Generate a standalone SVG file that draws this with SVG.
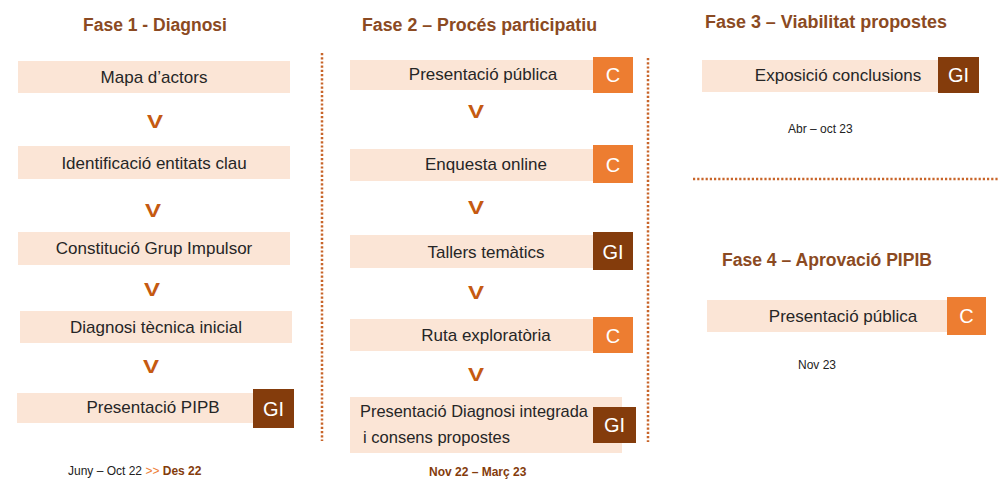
<svg xmlns="http://www.w3.org/2000/svg" width="998" height="480" viewBox="0 0 998 480">
<style>
.bg{fill:#ffffff}
.box{fill:#FBE5D6}
.gi{fill:#843C0C}
.c{fill:#ED7D31}
.t{font-family:"Liberation Sans",Arial,sans-serif;font-size:17px;fill:#262626;text-anchor:middle}
.tl{font-family:"Liberation Sans",Arial,sans-serif;font-size:17px;fill:#262626}
.tag{font-family:"Liberation Sans",Arial,sans-serif;font-size:20px;fill:#ffffff;text-anchor:middle}
.title{font-family:"Liberation Sans",Arial,sans-serif;font-size:17.5px;font-weight:bold;fill:#8B4A22}
.v{font-family:"Liberation Sans",Arial,sans-serif;font-size:18px;font-weight:bold;fill:#C55A11;text-anchor:middle}
.date{font-family:"Liberation Sans",Arial,sans-serif;font-size:12px;fill:#222222}
.dateb{font-weight:bold;fill:#843C0C}
.sep{stroke:#C8652A;stroke-width:2.5;stroke-dasharray:2.2 2;fill:none}
</style>
<rect class="bg" x="0" y="0" width="998" height="480"/>

<g id="titles">
<text class="title" x="83" y="31">Fase 1 - Diagnosi</text>
<text class="title" x="362" y="31" textLength="235" lengthAdjust="spacingAndGlyphs">Fase 2 – Procés participatiu</text>
<text class="title" x="705" y="28" textLength="242" lengthAdjust="spacingAndGlyphs">Fase 3 – Viabilitat propostes</text>
<text class="title" x="722" y="266" textLength="210" lengthAdjust="spacingAndGlyphs">Fase 4 – Aprovació PIPIB</text>
</g>

<g id="separators">
<line class="sep" x1="322" y1="53" x2="322" y2="441"/>
<line class="sep" x1="648" y1="58" x2="648" y2="442"/>
<line class="sep" x1="693" y1="179" x2="998" y2="179"/>
</g>

<!-- Fase 1 -->
<g id="f1-mapa">
<rect class="box" x="18" y="61" width="272" height="32"/>
<text class="t" x="154" y="83">Mapa d’actors</text>
</g>
<g id="f1-identificacio">
<rect class="box" x="18" y="146" width="272" height="33"/>
<text class="t" x="154" y="169">Identificació entitats clau</text>
</g>
<g id="f1-constitucio">
<rect class="box" x="18" y="232" width="272" height="33"/>
<text class="t" x="154" y="254">Constitució Grup Impulsor</text>
</g>
<g id="f1-diagnosi">
<rect class="box" x="20" y="311" width="272" height="32"/>
<text class="t" x="156" y="333">Diagnosi tècnica inicial</text>
</g>
<g id="f1-presentacio">
<rect class="box" x="17" y="393" width="243" height="30"/>
<text class="t" x="153" y="413">Presentació PIPB</text>
<rect class="gi" x="253" y="389" width="41" height="39"/>
<text class="tag" x="273.5" y="416">GI</text>
</g>

<!-- Fase 2 -->
<g id="f2-presentacio">
<rect class="box" x="350" y="60" width="243" height="30"/>
<text class="t" x="483" y="80">Presentació pública</text>
<rect class="c" x="593" y="57" width="40" height="36"/>
<text class="tag" x="613" y="82">C</text>
</g>
<g id="f2-enquesta">
<rect class="box" x="350" y="149" width="243" height="32"/>
<text class="t" x="486" y="170">Enquesta online</text>
<rect class="c" x="593" y="145" width="40" height="38"/>
<text class="tag" x="613" y="172">C</text>
</g>
<g id="f2-tallers">
<rect class="box" x="350" y="235" width="243" height="33"/>
<text class="t" x="486" y="258">Tallers temàtics</text>
<rect class="gi" x="593" y="232" width="40" height="38"/>
<text class="tag" x="613" y="259">GI</text>
</g>
<g id="f2-ruta">
<rect class="box" x="350" y="319" width="243" height="32"/>
<text class="t" x="486" y="341">Ruta exploratòria</text>
<rect class="c" x="593" y="317" width="40" height="36"/>
<text class="tag" x="613" y="343">C</text>
</g>
<g id="f2-diagnosi-integrada">
<rect class="box" x="350" y="397" width="272" height="56"/>
<text class="tl" x="360" y="417" textLength="228" lengthAdjust="spacingAndGlyphs">Presentació Diagnosi integrada</text>
<text class="tl" x="363" y="443" textLength="147" lengthAdjust="spacingAndGlyphs">i consens propostes</text>
<rect class="gi" x="593" y="407" width="43" height="36"/>
<text class="tag" x="614.5" y="432">GI</text>
</g>

<!-- Fase 3 -->
<g id="f3-exposicio">
<rect class="box" x="702" y="60" width="236" height="32"/>
<text class="t" x="838" y="81">Exposició conclusions</text>
<rect class="gi" x="938" y="57" width="41" height="36"/>
<text class="tag" x="958.5" y="82">GI</text>
</g>

<!-- Fase 4 -->
<g id="f4-presentacio">
<rect class="box" x="707" y="300" width="240" height="32"/>
<text class="t" x="843" y="322">Presentació pública</text>
<rect class="c" x="947" y="297" width="39" height="38"/>
<text class="tag" x="966.5" y="323">C</text>
</g>

<g id="connectors">
<text class="v" x="155" y="128" textLength="16" lengthAdjust="spacingAndGlyphs">V</text>
<text class="v" x="153" y="217" textLength="16" lengthAdjust="spacingAndGlyphs">V</text>
<text class="v" x="152" y="296" textLength="16" lengthAdjust="spacingAndGlyphs">V</text>
<text class="v" x="151" y="373" textLength="16" lengthAdjust="spacingAndGlyphs">V</text>
<text class="v" x="476" y="118" textLength="16" lengthAdjust="spacingAndGlyphs">V</text>
<text class="v" x="476" y="214" textLength="16" lengthAdjust="spacingAndGlyphs">V</text>
<text class="v" x="476" y="299" textLength="16" lengthAdjust="spacingAndGlyphs">V</text>
<text class="v" x="476" y="381" textLength="16" lengthAdjust="spacingAndGlyphs">V</text>
</g>

<g id="dates">
<text class="date" x="68" y="475">Juny – Oct 22 <tspan fill="#ED7D31">&gt;&gt;</tspan> <tspan class="dateb">Des 22</tspan></text>
<text class="date dateb" x="429" y="476">Nov 22 – Març 23</text>
<text class="date" x="788" y="133">Abr  – oct 23</text>
<text class="date" x="798" y="369">Nov 23</text>
</g>
</svg>
